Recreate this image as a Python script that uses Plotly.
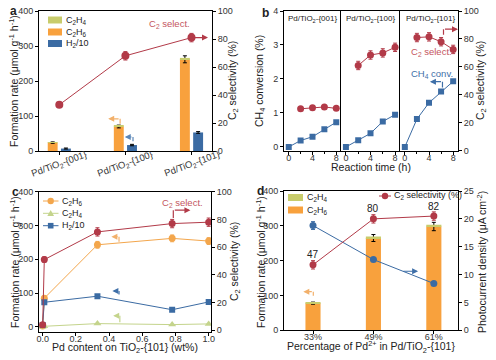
import plotly.graph_objects as go

W, H = 496, 360
FONT = "Liberation Sans, Arial, sans-serif"
RED = "#B23A48"
ORANGE = "#F8A13D"
OLIVE = "#C8CC6C"
BLUE = "#3B6BA3"
C_OR = "#F3A64C"
C_GR = "#C4D48C"

def px(p):
    return p / W

def py(p):
    return 1 - p / H

# ---------------- data ----------------
# panel a
a_labels = ["Pd/TiO<sub>2</sub>-{001}", "Pd/TiO<sub>2</sub>-{100}", "Pd/TiO<sub>2</sub>-{101}"]
a_pos = [0, 1, 2]
a_c2h4 = [1.5, 2.5, 4]
a_c2h6 = [24, 70, 262]
a_c2h6_err = [2, 4, 10]
a_h2 = [7, 17, 53]
a_h2_err = [1.5, 2, 2.5]
a_sel = [33, 68, 81]
a_sel_err = [1.5, 3, 3]

# panel b
b_facets = ["001", "100", "101"]
b_time = [0, 2, 4, 6, 8]
b_sel_time = [2, 4, 6, 8]
b_conv_001 = [0, 0.19, 0.30, 0.52, 0.73]
b_conv_100 = [0, 0.20, 0.40, 0.75, 0.95]
b_conv_101 = [0, 0.82, 1.30, 1.63, 1.93]
b_sel_001 = [30.0, 30.7, 31.3, 30.3]
b_sel_100 = [61, 68.5, 70, 74]
b_sel_101 = [81, 81.5, 78, 72.5]
b_sel_err_001 = [1.2, 1.2, 1.2, 1.2]
b_sel_err_100 = [3, 3, 3, 3]
b_sel_err_101 = [3, 3, 3, 3]

# panel c
c_pd = [0, 0.01, 0.33, 0.78, 1.0]
c_c2h6 = [3, 85, 243, 262, 254]
c_c2h6_err = [2, 6, 10, 10, 10]
c_c2h4 = [1, 2, 10, 7, 9]
c_h2 = [6, 73, 91, 51, 74]
c_sel = [4, 51, 71, 77, 78]
c_sel_err = [1, 2, 3, 3, 3]

# panel d
d_labels = ["33%", "49%", "61%"]
d_pos = [0, 1, 2]
d_c2h6 = [78, 265, 298]
d_c2h6_err = [3, 10, 12]
d_c2h4 = [2, 4, 5]
d_sel = [47, 80, 82]
d_sel_err = [3, 3, 3]
d_photo = [18.8, 12.7, 8.4]
d_photo_err = [0.7, 0.3, 0.3]

fig = go.Figure()

# ---------------- panel a ----------------
fig.add_trace(go.Bar(x=a_pos, y=a_c2h6, width=0.15, offset=-0.175, marker=dict(color=ORANGE, line=dict(width=0)),
                     error_y=dict(array=a_c2h6_err, color="black", thickness=1, width=2),
                     name="C2H6", xaxis="x", yaxis="y"))
fig.add_trace(go.Bar(x=a_pos, y=a_c2h4, base=a_c2h6, width=0.15, offset=-0.175, marker=dict(color=OLIVE, line=dict(width=0)),
                     name="C2H4", xaxis="x", yaxis="y"))
fig.add_trace(go.Bar(x=a_pos, y=a_h2, width=0.15, offset=0.025, marker=dict(color=BLUE, line=dict(width=0)),
                     error_y=dict(array=a_h2_err, color="black", thickness=1, width=2),
                     name="H2/10", xaxis="x", yaxis="y"))
fig.add_trace(go.Scatter(x=a_pos, y=a_sel, mode="lines+markers", line=dict(color=RED, width=1),
                         marker=dict(color=RED, size=8), error_y=dict(array=a_sel_err, color=RED, thickness=1, width=2),
                         name="C2 select.", xaxis="x", yaxis="y2"))

# ---------------- panel b ----------------
b_conv = [b_conv_001, b_conv_100, b_conv_101]
b_sel = [b_sel_001, b_sel_100, b_sel_101]
b_sel_err = [b_sel_err_001, b_sel_err_100, b_sel_err_101]
b_axes = [("x2", "y3", "y4"), ("x3", "y5", "y6"), ("x4", "y7", "y8")]
for k in range(3):
    xa, yc, ys = b_axes[k]
    fig.add_trace(go.Scatter(x=b_time, y=b_conv[k], mode="lines+markers", line=dict(color=BLUE, width=1),
                             marker=dict(color=BLUE, size=6, symbol="square"),
                             xaxis=xa, yaxis=yc))
    fig.add_trace(go.Scatter(x=b_sel_time, y=b_sel[k], mode="lines+markers", line=dict(color=RED, width=1),
                             marker=dict(color=RED, size=7),
                             error_y=dict(array=b_sel_err[k], color=RED, thickness=1, width=2),
                             xaxis=xa, yaxis=ys))

# ---------------- panel c ----------------
fig.add_trace(go.Scatter(x=c_pd, y=c_c2h6, mode="lines+markers", line=dict(color=C_OR, width=1),
                         marker=dict(color=C_OR, size=7), error_y=dict(array=c_c2h6_err, color=C_OR, thickness=1, width=2),
                         xaxis="x5", yaxis="y9"))
fig.add_trace(go.Scatter(x=c_pd, y=c_c2h4, mode="lines+markers", line=dict(color=C_GR, width=1),
                         marker=dict(color=C_GR, size=7, symbol="triangle-up"),
                         xaxis="x5", yaxis="y9"))
fig.add_trace(go.Scatter(x=c_pd, y=c_h2, mode="lines+markers", line=dict(color=BLUE, width=1),
                         marker=dict(color=BLUE, size=6, symbol="square"),
                         xaxis="x5", yaxis="y9"))
fig.add_trace(go.Scatter(x=c_pd, y=c_sel, mode="lines+markers", line=dict(color=RED, width=1),
                         marker=dict(color=RED, size=7), error_y=dict(array=c_sel_err, color=RED, thickness=1, width=2),
                         xaxis="x5", yaxis="y10"))

# ---------------- panel d ----------------
fig.add_trace(go.Bar(x=d_pos, y=d_c2h6, width=0.25, marker=dict(color=ORANGE, line=dict(width=0)),
                     error_y=dict(array=d_c2h6_err, color="black", thickness=1, width=2),
                     xaxis="x6", yaxis="y11"))
fig.add_trace(go.Bar(x=d_pos, y=d_c2h4, base=d_c2h6, width=0.25, marker=dict(color=OLIVE, line=dict(width=0)),
                     xaxis="x6", yaxis="y11"))
fig.add_trace(go.Scatter(x=d_pos, y=d_photo, mode="lines+markers", line=dict(color=BLUE, width=1),
                         marker=dict(color=BLUE, size=7), error_y=dict(array=d_photo_err, color=BLUE, thickness=1, width=2),
                         xaxis="x6", yaxis="y12"))
fig.add_trace(go.Scatter(x=d_pos, y=d_sel, mode="lines+markers", line=dict(color=RED, width=1),
                         marker=dict(color=RED, size=7), error_y=dict(array=d_sel_err, color=RED, thickness=1, width=2),
                         xaxis="x6", yaxis="y13"))

# ---------------- axes ----------------
tickf = dict(family=FONT, size=9, color="#333")
base_ax = dict(showline=True, linecolor="black", linewidth=1, ticks="outside", ticklen=3, tickwidth=1,
               tickcolor="black", showgrid=False, zeroline=False, tickfont=tickf, automargin=False)
xs = dict(ticklabelstandoff=-5)

ya_dom = [py(151), py(11)]
yb_dom = [py(150.7), py(11)]
yc_dom = [py(331.7), py(191.7)]
yd_dom = [py(330.3), py(191)]

lay = dict(
    width=W, height=H, margin=dict(l=0, r=0, t=0, b=0, autoexpand=False), paper_bgcolor="white",
    plot_bgcolor="white", showlegend=False,
    barmode="overlay", font=dict(family=FONT, size=10, color="#222"),
    # a
    xaxis=dict(base_ax, domain=[px(39), px(212)], anchor="y", range=[-0.307, 2.31], tickvals=a_pos,
               showticklabels=False, mirror=True),
    yaxis=dict(base_ax, domain=ya_dom, anchor="x", range=[0, 400], dtick=100),
    yaxis2=dict(base_ax, overlaying="y", anchor="x", side="right", range=[0, 100], dtick=20),
    # b
    xaxis2=dict(base_ax, **xs, domain=[px(284), px(341)], anchor="y3", range=[-0.8, 8.8], dtick=4, mirror=True,
                minor=dict(dtick=2, ticks="outside", ticklen=2)),
    xaxis3=dict(base_ax, **xs, domain=[px(341), px(400)], anchor="y5", range=[-0.8, 8.8], dtick=4, mirror=True,
                minor=dict(dtick=2, ticks="outside", ticklen=2)),
    xaxis4=dict(base_ax, **xs, domain=[px(400), px(458)], anchor="y7", range=[-0.8, 8.8], dtick=4, mirror=True,
                minor=dict(dtick=2, ticks="outside", ticklen=2)),
    yaxis3=dict(base_ax, domain=yb_dom, anchor="x2", range=[-0.11, 4], dtick=1),
    yaxis4=dict(overlaying="y3", anchor="x2", range=[0, 100], visible=False),
    yaxis5=dict(base_ax, domain=yb_dom, anchor="x3", range=[-0.11, 4], ticks="", showticklabels=False),
    yaxis6=dict(overlaying="y5", anchor="x3", range=[0, 100], visible=False),
    yaxis7=dict(base_ax, domain=yb_dom, anchor="x4", range=[-0.11, 4], ticks="", showticklabels=False),
    yaxis8=dict(base_ax, overlaying="y7", anchor="x4", side="right", range=[0, 100], dtick=20),
    # c
    xaxis5=dict(base_ax, **xs, domain=[px(39), px(211)], anchor="y9", range=[-0.022, 1.014], dtick=0.2,
                tickformat=".1f", mirror=True),
    yaxis9=dict(base_ax, domain=yc_dom, anchor="x5", range=[-14, 400], dtick=100),
    yaxis10=dict(base_ax, overlaying="y9", anchor="x5", side="right", range=[-1, 100], dtick=20),
    # d
    xaxis6=dict(base_ax, **xs, domain=[px(284), px(458)], anchor="y11", range=[-0.48, 2.4], tickvals=d_pos,
                ticktext=d_labels, mirror=True),
    yaxis11=dict(base_ax, domain=yd_dom, anchor="x6", range=[0, 400], dtick=100),
    yaxis12=dict(base_ax, overlaying="y11", anchor="x6", side="right", range=[0, 25], dtick=5),
    yaxis13=dict(overlaying="y11", anchor="x6", range=[0, 100], visible=False),
)
fig.update_layout(**lay)

# ---------------- annotations / decorations ----------------
ann = []
shapes = []

def txt(text, x, y, xref="paper", yref="paper", size=10, color="#222", angle=0, bold=False, xanchor="center",
        yshift=0):
    if bold:
        text = "<b>" + text + "</b>"
    ann.append(dict(text=text, x=x, y=y, xref=xref, yref=yref, showarrow=False, textangle=angle,
                    font=dict(size=size, color=color, family=FONT), xanchor=xanchor, yanchor="middle",
                    yshift=yshift))

def arrow(x, y, ax, ay, xref, yref, color):
    ann.append(dict(text="", x=x, y=y, ax=ax, ay=ay, xref=xref, yref=yref, axref=xref, ayref=yref,
                    showarrow=True, arrowhead=2, arrowsize=1, arrowwidth=1.2, arrowcolor=color))

def seg(x0, y0, x1, y1, xref, yref, color, width=1.2):
    shapes.append(dict(type="line", x0=x0, y0=y0, x1=x1, y1=y1, xref=xref, yref=yref,
                       line=dict(color=color, width=width)))

def rect_px(x0, y0, x1, y1, color):
    shapes.append(dict(type="rect", x0=px(x0), x1=px(x1), y0=py(y1), y1=py(y0), xref="paper", yref="paper",
                       fillcolor=color, line=dict(width=0)))

def line_px(x0, y0, x1, y1, color):
    shapes.append(dict(type="line", x0=px(x0), x1=px(x1), y0=py(y0), y1=py(y1), xref="paper", yref="paper",
                       line=dict(color=color, width=1)))

def circle_px(cx, cy, r, color):
    shapes.append(dict(type="circle", x0=px(cx - r), x1=px(cx + r), y0=py(cy + r), y1=py(cy - r),
                       xref="paper", yref="paper", fillcolor=color, line=dict(width=0)))

def tri_px(cx, cy, r, color):
    pts = [(cx, cy - r), (cx + r, cy + r * 0.8), (cx - r, cy + r * 0.8)]
    path = "M " + " L ".join(f"{px(a):.5f},{py(b):.5f}" for a, b in pts) + " Z"
    shapes.append(dict(type="path", path=path, xref="paper", yref="paper", fillcolor=color, line=dict(width=0)))

# panel letters
txt("a", px(13), py(11), size=12, bold=True)
txt("b", px(265), py(13), size=12, bold=True)
txt("c", px(15), py(192), size=12, bold=True)
txt("d", px(260), py(191), size=12, bold=True)

# rotated category labels of panel a
for p, lab in zip(a_pos, a_labels):
    txt(lab, p, py(164), xref="x", yref="paper", size=9.5, color="#333", angle=-20)

# axis titles
fr = "Formation rate (μmol g<sup>-1</sup> h<sup>-1</sup>)"
c2s = "C<sub>2</sub> selectivity (%)"
txt(fr, px(14), py(81), angle=-90, size=10.5)
txt(c2s, px(233), py(81), angle=-90, size=10.5)
txt("CH<sub>4</sub> conversion (%)", px(260), py(81), angle=-90, size=10.5)
txt(c2s, px(481), py(81), angle=-90, size=10.5)
txt("Reaction time (h)", px(371), py(167), size=10.5)
txt(fr, px(14), py(262), angle=-90, size=10.5)
txt(c2s, px(235), py(262), angle=-90, size=10.5)
txt("Pd content on TiO<sub>2</sub>-{101} (wt%)", px(125), py(348), size=10.5)
txt(fr, px(260), py(262), angle=-90, size=10.5)
txt("Photocurrent density (μA cm<sup>-2</sup>)", px(481), py(262), angle=-90, size=10.5)
txt("Percentage of Pd<sup>2+</sup> in Pd/TiO<sub>2</sub>-{101}", px(371), py(347), size=10.5)

# legend a
for (name, col, cy) in [("C<sub>2</sub>H<sub>4</sub>", OLIVE, 20), ("C<sub>2</sub>H<sub>6</sub>", ORANGE, 32),
                        ("H<sub>2</sub>/10", BLUE, 43.5)]:
    rect_px(48, cy - 3.5, 62, cy + 3.5, col)
    txt(name, px(64), py(cy), size=9, xanchor="left")

# legend c
for (name, col, cy, sym) in [("C<sub>2</sub>H<sub>6</sub>", C_OR, 201, "c"), ("C<sub>2</sub>H<sub>4</sub>", C_GR, 213.3, "t"),
                             ("H<sub>2</sub>/10", BLUE, 225.7, "s")]:
    line_px(43, cy, 58.5, cy, col)
    if sym == "c":
        circle_px(50.7, cy, 3.2, col)
    elif sym == "t":
        tri_px(50.7, cy, 3.4, col)
    else:
        rect_px(47.9, cy - 2.8, 53.5, cy + 2.8, col)
    txt(name, px(60), py(cy), size=9, xanchor="left")

# legend d
for (name, col, cy) in [("C<sub>2</sub>H<sub>4</sub>", OLIVE, 197.5), ("C<sub>2</sub>H<sub>6</sub>", ORANGE, 210)]:
    rect_px(288, cy - 3.5, 303, cy + 3.5, col)
    txt(name, px(305), py(cy), size=9, xanchor="left")
line_px(379, 196, 391, 196, RED)
circle_px(385, 196, 3.2, RED)
txt("C<sub>2</sub> selectivity (%)", px(392), py(196), size=9, xanchor="left")

# panel a annotations
txt("C<sub>2</sub> select.", 1.66, 91, xref="x", yref="y2", size=9.5, color="#C45560")
arrow(2.25, 81, 2.03, 81, "x", "y2", RED)
arrow(0.74, 92, 0.92, 92, "x", "y", "#F2B06A")
seg(0.92, 92, 0.92, 78, "x", "y", "#F2B06A")
arrow(0.99, 40, 1.115, 40, "x", "y", "#5A86B8")
seg(1.115, 40, 1.115, 28, "x", "y", "#5A86B8")

# panel b annotations
for name, cx in zip(b_facets, [312, 370, 430]):
    txt("Pd/TiO<sub>2</sub>-{" + name + "}", px(cx), py(19), size=8)
txt("C<sub>2</sub> select.", px(431), py(52), size=9.5, color="#C45560")
txt("CH<sub>4</sub> conv.", px(432), py(74), size=9.5, color="#3E6FA8")
seg(6.4, 83, 6.4, 87, "x4", "y8", RED)
arrow(8.8, 87, 6.4, 87, "x4", "y8", RED)
seg(6.23, 1.92, 6.23, 1.75, "x4", "y7", "#3E6FA8")
arrow(4.15, 1.92, 6.23, 1.92, "x4", "y7", "#3E6FA8")

# panel c annotations
txt("C<sub>2</sub> select.", 0.84, 91.6, xref="x5", yref="y10", size=9.5, color="#C45560")
seg(0.787, 81, 0.787, 86.7, "x5", "y10", RED)
arrow(0.89, 86.7, 0.787, 86.7, "x5", "y10", RED)
seg(0.46, 267, 0.46, 252, "x5", "y9", "#F2B06A")
arrow(0.414, 267, 0.46, 267, "x5", "y9", "#F2B06A")
seg(0.46, 106, 0.46, 96, "x5", "y9", "#3E6FA8")
arrow(0.42, 106, 0.46, 106, "x5", "y9", "#3E6FA8")
seg(0.465, 33, 0.465, 14, "x5", "y9", "#C4D48C")
arrow(0.425, 33, 0.465, 33, "x5", "y9", "#C4D48C")

# panel d annotations
for p, v in zip(d_pos, d_sel):
    txt(str(v), p, v, xref="x6", yref="y13", size=10, color="#222", yshift=10)
arrow(1.74, 10.6, 1.47, 10.6, "x6", "y12", "#3E6FA8")
seg(0.005, 111, 0.005, 99, "x6", "y11", "#F2B06A")
arrow(-0.16, 111, 0.005, 111, "x6", "y11", "#F2B06A")

fig.update_layout(annotations=ann, shapes=shapes)
fig.write_html("out.html", config={"displayModeBar": False},
               post_script="document.body.style.margin='0';document.body.style.padding='0';")
